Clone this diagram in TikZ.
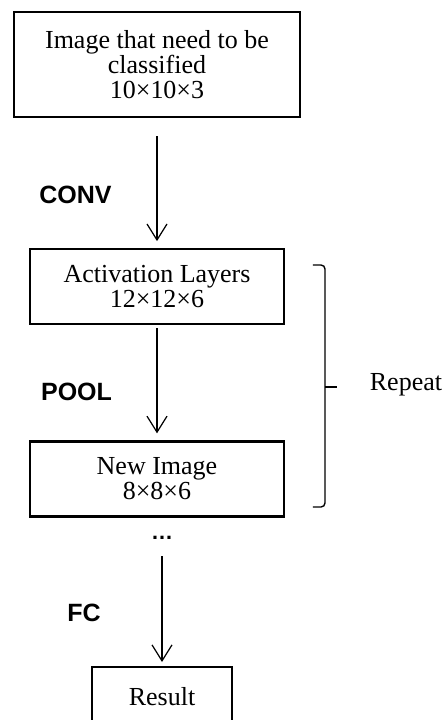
\documentclass[tikz,border=0pt]{standalone}
\usepackage{fontspec}
\setmainfont{Liberation Serif}
\newfontfamily\stepfont{Liberation Sans}
\usepackage{tikz}
\usetikzlibrary{positioning,arrows.meta}

\begin{document}
\begin{tikzpicture}[
        x=1pt, y=1pt,
        >={Straight Barb[length=8pt,width=10pt]},
        block/.style={draw, line width=1.1pt, align=center, inner sep=0pt,
            font=\fontsize{13}{12.5}\selectfont},
        oplabel/.style={font=\stepfont\bfseries\fontsize{12.5}{14}\selectfont},
        flow/.style={->, line width=0.6pt}
    ]
      \useasboundingbox (0,0) rectangle (223,-360);

      \node[block, minimum width=143pt, minimum height=52.5pt] (img) at (78.5,-32.25)
          {Image that need to be\\classified\\10×10×3};
      \node[block, minimum width=127pt, minimum height=37.5pt, below=65pt of img] (act)
          {Activation Layers\\12×12×6};
      \node[block, minimum width=127pt, minimum height=37.5pt, below=57.5pt of act] (new)
          {New Image\\8×8×6};
      \node[inner sep=0pt, minimum height=6pt, font=\stepfont\bfseries\fontsize{11}{12}\selectfont] (dots) at (81,-269) {…};
      \node[block, minimum width=70pt, minimum height=29pt, anchor=north] (res) at (81,-333)
          {Result};

      \node[oplabel] (conv) at (37.75,-97.5) {CONV};
      \node[oplabel] (pool) at (38.25,-196) {POOL};
      \node[oplabel] (fc) at (42,-306.5) {FC};

      \draw[flow, shorten <=9pt, shorten >=3.5pt] (img) -- (act);
      \draw[flow, shorten <=1.5pt, shorten >=3.5pt] (act) -- (new);
      \draw[flow, shorten <=6pt, shorten >=2pt] (dots) -- (res);

      % bracket round the repeated part
      \coordinate (btop) at (162.5,-132.5);
      \coordinate (bbot) at (162.5,-253.5);
      \coordinate (bmid) at (162.5,-193.5);
      \draw[line width=0.7pt, rounded corners=2pt] ([xshift=-6pt]btop) -- (btop) -- (bbot) -- ([xshift=-6pt]bbot);
      \draw[line width=0.7pt] (bmid) -- ++(6,0);
      \node[font=\fontsize{13}{14}\selectfont] (rep) at (203,-192.5) {Repeat};
    \end{tikzpicture}
\end{document}
